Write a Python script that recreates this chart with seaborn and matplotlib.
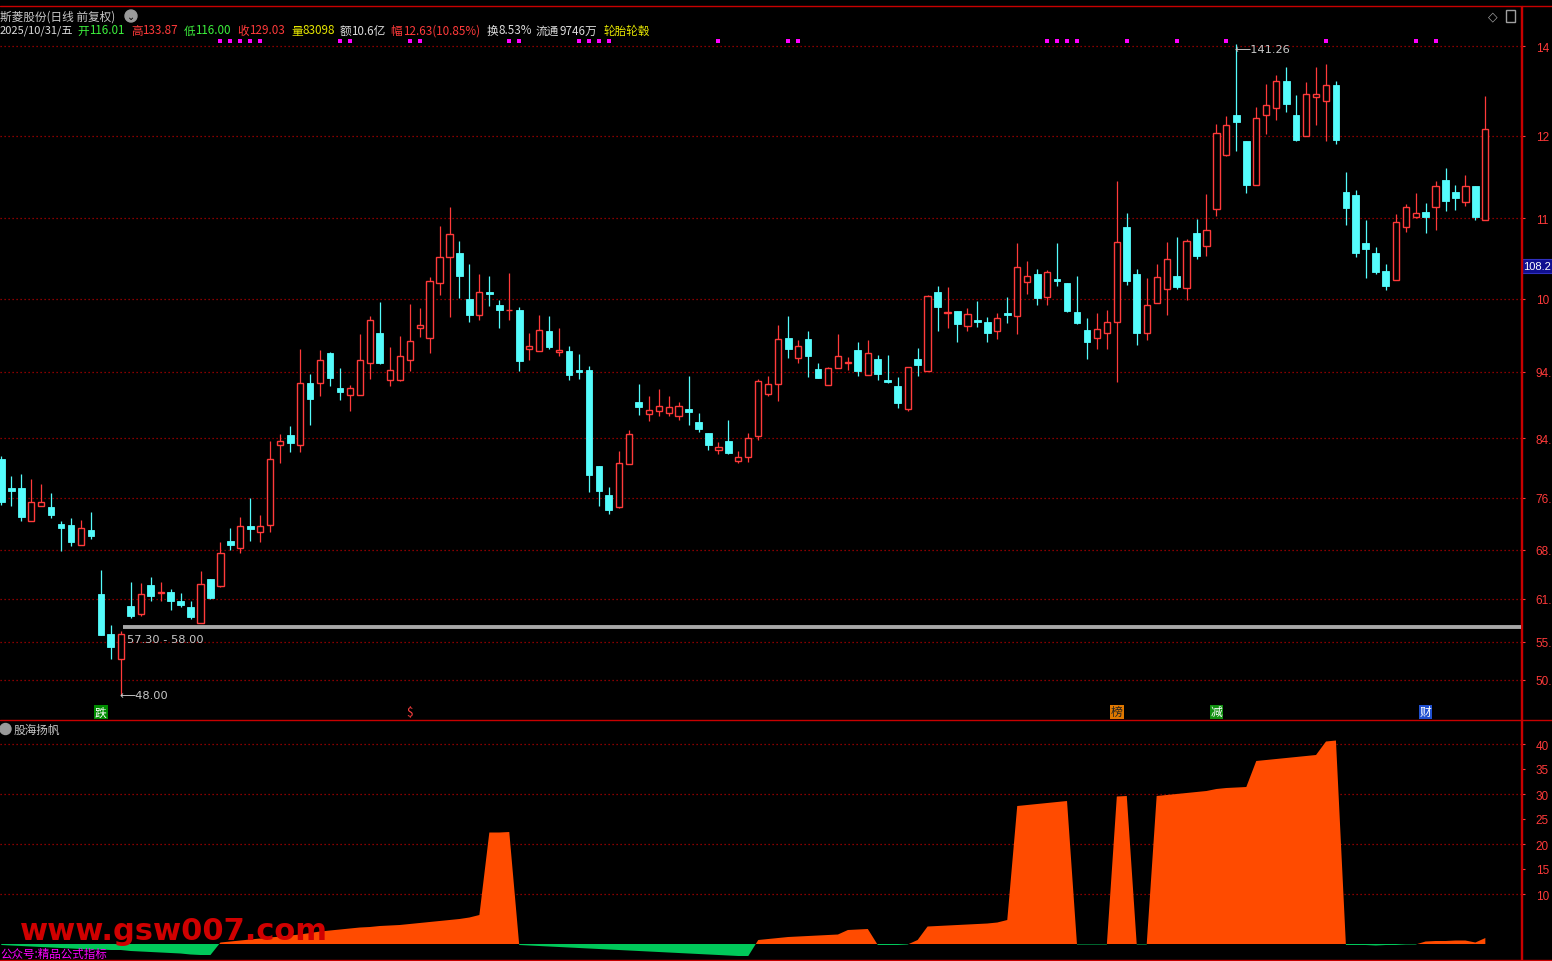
import numpy as np
import matplotlib
matplotlib.use("Agg")
import matplotlib.pyplot as plt
from matplotlib.patches import Ellipse, Rectangle
from matplotlib.lines import Line2D
import seaborn as sns

sns.set_theme(style="dark", rc={"axes.facecolor": "black", "figure.facecolor": "black",
                                "axes.grid": False})
plt.rcParams['font.family'] = ['Noto Sans CJK SC', 'DejaVu Sans']

# ---------------- data ----------------
opens = [81.80, 77.65, 77.65, 72.88, 75.03, 74.93, 72.49, 72.35, 69.53, 71.63,
         62.46, 56.73, 53.20, 60.75, 59.64, 63.75, 62.65, 62.75, 61.46, 60.60,
         58.27, 64.61, 63.65, 70.06, 69.10, 72.21, 71.39, 72.40, 83.86, 85.25,
         83.86, 92.70, 92.74, 96.99, 91.98, 91.02, 91.02, 95.60, 99.86, 93.17,
         93.17, 96.03, 100.62, 99.10, 106.98, 110.70, 111.32, 104.73, 102.39, 105.73,
         103.87, 103.16, 103.15, 97.61, 97.32, 100.14, 97.09, 97.28, 94.55, 94.55,
         80.80, 76.65, 74.93, 81.13, 89.97, 88.30, 88.73, 88.44, 88.01, 88.97,
         87.06, 85.53, 83.05, 84.34, 81.47, 82.05, 85.06, 91.07, 92.51, 99.14,
         96.23, 99.00, 94.70, 92.36, 94.80, 95.56, 97.42, 93.80, 96.13, 93.12,
         92.26, 88.92, 96.13, 94.37, 105.73, 102.72, 103.01, 100.90, 101.72, 101.43,
         100.07, 102.58, 102.25, 107.12, 108.31, 104.97, 107.59, 107.02, 102.86, 100.29,
         99.10, 99.81, 101.47, 115.04, 108.31, 99.81, 104.11, 106.12, 108.02, 106.25,
         114.18, 112.28, 117.58, 125.40, 131.05, 127.37, 121.02, 131.05, 132.05, 135.92,
         131.09, 128.04, 133.62, 133.05, 135.34, 120.06, 119.63, 112.75, 111.32, 108.74,
         107.41, 115.00, 116.43, 117.19, 117.87, 121.78, 120.06, 118.58, 120.92, 116.01]
closes = [75.69, 77.26, 73.54, 75.64, 75.64, 73.83, 71.96, 69.96, 71.92, 70.81,
          56.64, 54.91, 56.73, 59.35, 62.46, 62.22, 62.70, 61.50, 60.93, 59.21,
          63.85, 61.89, 68.30, 69.53, 72.16, 71.82, 72.16, 81.76, 84.34, 84.14,
          92.70, 90.40, 95.95, 93.41, 91.45, 91.94, 95.95, 101.68, 95.56, 94.51,
          96.52, 98.67, 101.00, 107.27, 110.70, 114.00, 108.07, 102.48, 105.69, 105.49,
          103.19, 103.22, 95.89, 97.95, 100.24, 97.85, 97.42, 93.88, 94.31, 79.56,
          77.22, 74.54, 81.23, 85.35, 89.30, 88.78, 89.36, 89.21, 89.36, 88.58,
          86.15, 83.86, 83.48, 82.71, 82.05, 84.77, 92.94, 92.51, 98.96, 97.61,
          97.95, 96.60, 93.45, 94.80, 96.56, 95.63, 94.45, 96.95, 94.03, 92.88,
          89.87, 94.94, 95.31, 105.11, 103.62, 102.80, 101.19, 102.53, 101.47, 99.90,
          101.98, 102.49, 109.27, 107.98, 104.91, 108.55, 107.27, 103.01, 101.33, 98.61,
          100.39, 101.39, 112.85, 107.35, 99.90, 103.87, 107.84, 110.46, 106.49, 113.04,
          110.93, 114.57, 128.47, 129.62, 130.13, 121.10, 130.62, 132.48, 135.92, 132.71,
          127.55, 134.06, 134.06, 135.34, 127.55, 117.81, 111.36, 111.94, 108.64, 106.63,
          115.76, 117.87, 117.01, 116.52, 120.92, 118.81, 119.24, 120.88, 116.52, 129.03]
highs = [82.28, 79.37, 79.66, 78.94, 78.22, 76.93, 72.92, 73.35, 73.06, 74.21,
         65.90, 58.03, 57.12, 64.18, 64.04, 64.90, 64.18, 63.18, 62.61, 61.46,
         65.76, 64.61, 69.91, 71.92, 73.49, 76.22, 73.78, 84.39, 85.39, 86.54,
         97.57, 93.98, 97.42, 97.13, 94.84, 92.41, 99.72, 102.29, 104.30, 97.85,
         99.43, 104.01, 103.44, 107.84, 115.19, 117.91, 113.04, 109.74, 108.31, 108.02,
         104.58, 108.45, 103.54, 99.86, 102.43, 102.29, 100.57, 97.99, 96.85, 95.08,
         80.80, 77.79, 82.95, 85.96, 92.55, 90.83, 91.84, 90.83, 89.97, 93.70,
         88.35, 85.53, 84.24, 87.39, 82.95, 85.53, 93.27, 93.70, 101.00, 102.29,
         98.86, 100.14, 95.56, 94.99, 99.72, 96.42, 98.57, 98.86, 96.71, 96.71,
         93.55, 94.94, 97.70, 105.30, 106.59, 106.40, 103.01, 103.44, 104.44, 102.15,
         102.72, 105.02, 112.75, 110.17, 109.03, 108.88, 112.75, 107.02, 108.02, 102.00,
         102.72, 103.15, 121.63, 117.05, 109.03, 107.74, 109.74, 112.89, 113.61, 113.32,
         116.19, 119.77, 129.76, 130.95, 141.26, 127.37, 132.21, 135.53, 136.82, 137.97,
         133.95, 135.82, 137.97, 138.40, 135.92, 122.92, 120.35, 116.05, 112.18, 109.74,
         116.91, 118.34, 119.92, 118.48, 121.63, 123.50, 121.06, 122.49, 120.92, 133.87]
lows = [75.26, 75.12, 72.97, 72.88, 75.03, 73.35, 68.67, 69.39, 69.53, 70.39,
        56.64, 53.15, 48.00, 59.02, 59.35, 61.46, 61.46, 60.17, 60.64, 58.92,
        58.27, 61.75, 63.51, 68.81, 68.38, 70.10, 69.96, 71.31, 81.28, 82.85,
        82.85, 86.72, 90.87, 92.31, 90.30, 88.68, 91.02, 93.27, 95.46, 92.31,
        93.02, 94.41, 99.33, 97.03, 105.34, 102.19, 104.91, 101.47, 101.76, 103.77,
        100.62, 101.76, 94.45, 96.03, 97.32, 97.61, 96.60, 93.17, 93.31, 77.12,
        75.07, 73.97, 74.83, 81.13, 88.15, 87.29, 88.01, 88.01, 87.44, 86.72,
        85.72, 83.14, 82.56, 82.56, 81.19, 81.42, 84.57, 90.87, 90.16, 96.32,
        95.60, 93.60, 93.45, 92.36, 94.80, 94.60, 93.74, 93.80, 93.17, 92.74,
        89.15, 88.73, 93.74, 94.37, 100.18, 100.62, 98.61, 100.10, 100.76, 98.61,
        99.00, 101.33, 99.76, 105.45, 103.91, 103.91, 106.63, 102.91, 101.19, 96.18,
        97.61, 97.61, 92.88, 106.78, 98.18, 98.90, 104.11, 102.48, 106.20, 104.63,
        110.50, 110.93, 116.66, 125.26, 125.98, 119.96, 121.02, 128.41, 130.42, 131.48,
        127.32, 128.04, 129.70, 127.41, 126.98, 115.37, 110.79, 107.78, 108.35, 106.06,
        107.41, 114.37, 116.29, 114.23, 114.66, 117.38, 117.52, 118.10, 116.09, 116.00]

indicator = ([-0.2, -0.3, -0.4, -0.5, -0.6, -0.7, -0.8, -0.9, -1.0, -1.1,
              -1.1, -1.2, -1.2, -1.4, -1.5, -1.6, -1.7, -1.8, -1.9, -2.1, -2.2, -2.2]
             + [0.3, 0.5, 0.7, 0.9, 1.1, 1.3, 1.5, 1.7, 1.9, 2.2, 2.5, 2.7, 2.9, 3.1,
                3.3, 3.4, 3.6, 3.7, 3.8, 4.0, 4.2, 4.4, 4.6, 4.8, 5.0, 5.3, 5.8]
             + [22.3, 22.3, 22.4]
             + [-0.2, -0.3, -0.4, -0.5, -0.6, -0.7, -0.8, -0.9, -1.0, -1.1, -1.2, -1.3,
                -1.4, -1.5, -1.6, -1.7, -1.8, -1.9, -2.0, -2.1, -2.2, -2.3, -2.4, -2.4]
             + [0.8, 1.0, 1.2, 1.4, 1.5, 1.6, 1.7, 1.8, 1.9, 2.8, 2.9, 3.0]
             + [-0.2, -0.2, -0.2, -0.1]
             + [0.8, 3.5, 3.6, 3.7, 3.8, 3.9, 4.0, 4.1, 4.3, 4.8]
             + [27.6, 27.8, 28.0, 28.2, 28.4, 28.6]
             + [-0.1, -0.1, -0.1, -0.1]
             + [29.5, 29.6]
             + [-0.1, -0.1]
             + [29.6, 29.8, 30.0, 30.2, 30.4, 30.6]
             + [31.0, 31.2, 31.3, 31.4]
             + [36.6, 36.8, 37.0, 37.2, 37.4, 37.6, 37.8]
             + [40.5, 40.7]
             + [-0.2, -0.2, -0.2, -0.3, -0.2, -0.2, -0.1, -0.1]
             + [0.5, 0.6, 0.6, 0.7, 0.7, 0.3, 1.2])

signal_days = [22, 23, 24, 25, 26, 34, 35, 41, 42, 51, 52, 58, 59, 60, 61, 72, 79, 80,
               105, 106, 107, 108, 113, 118, 123, 133, 142, 144]
event_days = [10, 41, 112, 122, 143]
event_labels = ["跌", "$", "榜", "减", "财"]

# price gridline levels and the (clipped) labels visible at the right edge
price_ticks = [50.15, 55.59, 61.75, 68.77, 76.22, 84.81, 94.27, 104.73, 116.33, 128.08, 140.97]
price_tick_labels = ["50.", "55.", "61.", "68.", "76.", "84.", "94.", "10", "11", "12", "14"]
ind_ticks = [10, 15, 20, 25, 30, 35, 40]
ind_tick_labels = ["10", "15", "20", "25", "30", "35", "40"]
ind_grid = [10, 20, 30, 40]

support_low, support_high = 57.30, 58.00
low_price, high_price = 48.00, 141.26
low_day, high_day = 12, 124
last_label = "108.2"

# ---------------- figure ----------------
W, H = 1552, 962
fig = plt.figure(figsize=(W / 100, H / 100), dpi=100, facecolor="black")


def fx(px):
    return px / W


def fy(py):
    return 1 - py / H


RED = "#FF3A3A"
CYAN = "#54FCFC"
GRID = "#B40000"
AXRED = "#C80000"
TICKFONT = ["Liberation Sans", "DejaVu Sans"]

ax = fig.add_axes([0, fy(720), 1521 / W, (720 - 8) / H])
ax2 = fig.add_axes([0, fy(960), 1521 / W, (960 - 722) / H])
XL = (-0.1305, 152.58)

o = np.array(opens)
c = np.array(closes)
h = np.array(highs)
l = np.array(lows)
x = np.arange(len(o))
up = c >= o
dn = ~up

# gridlines
for t in price_ticks:
    ax.axhline(t, color=GRID, lw=0.9, ls=(0, (1.0, 2.2)), zorder=0)

# down candles (filled cyan)
ax.vlines(x[dn], l[dn], h[dn], color=CYAN, lw=0.9, zorder=2)
body_dn = np.maximum(o[dn] - c[dn], 0.16)
ax.bar(x[dn], body_dn, bottom=c[dn], width=0.68, color=CYAN, edgecolor=CYAN,
       linewidth=0.6, zorder=3)
# up candles (hollow red)
ax.vlines(x[up], c[up], h[up], color=RED, lw=0.9, zorder=2)
ax.vlines(x[up], l[up], o[up], color=RED, lw=0.9, zorder=2)
ax.bar(x[up], c[up] - o[up], bottom=o[up], width=0.62, facecolor="black",
       edgecolor=RED, linewidth=1.0, zorder=3)

# signal markers at top
ax.scatter(signal_days, [141.69] * len(signal_days), marker="s", s=9, color="#FF00FF",
           linewidths=0, zorder=4)

# support line
ax.hlines((support_low + support_high) / 2 + 0.08, 12.2, XL[1], color="#A8A8A8", lw=2.8, zorder=4)
ax.text(12.6, 56.0, f"{support_low:.2f} - {support_high:.2f}", color="#C8C8C8", fontsize=8.2,
        va="center", ha="left", family=["DejaVu Sans"], zorder=5)
ax.text(11.9, low_price, f"⟵{low_price:.2f}", color="#C8C8C8", fontsize=8.2,
        va="center", ha="left", family=["DejaVu Sans"], zorder=5)
ax.text(123.8, 140.6, f"⟵{high_price:.2f}", color="#C8C8C8", fontsize=8.2,
        va="center", ha="left", family=["DejaVu Sans"], zorder=5)

# event labels at the bottom
ev_style = {"跌": ("#FFFFFF", "#008C00"), "$": ("#FF4040", None), "榜": ("#202020", "#E07800"),
            "减": ("#FFFFFF", "#109010"), "财": ("#FFFFFF", "#2050D0")}
for d, t in zip(event_days, event_labels):
    fc, bc = ev_style[t]
    kw = {}
    if bc:
        kw["bbox"] = dict(boxstyle="square,pad=0.08", fc=bc, ec="none")
    ax.text(d, 45.56, t, color=fc, fontsize=8.5, ha="center", va="center", zorder=5, **kw)

ax.set_xlim(*XL)
ax.set_ylim(44.552, 146.561)
ax.set_xticks([])
ax.yaxis.tick_right()
ax.set_yticks(price_ticks)
ax.set_yticklabels(price_tick_labels)
ax.tick_params(axis="y", colors=RED, length=3, width=0.8, pad=7.5, labelsize=8.5)
for lab in ax.get_yticklabels():
    lab.set_family(TICKFONT)
for s in ["top", "left", "bottom"]:
    ax.spines[s].set_visible(False)
ax.spines["right"].set_color(AXRED)
ax.spines["right"].set_linewidth(1.0)
ax.set_facecolor("black")

# ---------------- lower indicator ----------------
v = np.array(indicator)
for t in ind_grid:
    ax2.axhline(t, color=GRID, lw=0.9, ls=(0, (1.0, 2.2)), zorder=0)
ax2.fill_between(x, 0, v, where=v >= 0, interpolate=True, color="#FF4B00", lw=0, zorder=2)
ax2.fill_between(x, 0, v, where=v <= 0, interpolate=True, color="#00C85A", lw=0, zorder=2)
ax2.set_xlim(*XL)
ax2.set_ylim(-3.0, 44.6)
ax2.set_xticks([])
ax2.yaxis.tick_right()
ax2.set_yticks(ind_ticks)
ax2.set_yticklabels(ind_tick_labels)
ax2.tick_params(axis="y", colors=RED, length=3, width=0.8, pad=7.5, labelsize=8.5)
for lab in ax2.get_yticklabels():
    lab.set_family(TICKFONT)
for s in ["top", "left", "bottom"]:
    ax2.spines[s].set_visible(False)
ax2.spines["right"].set_color(AXRED)
ax2.spines["right"].set_linewidth(1.0)
ax2.set_facecolor("black")

# ---------------- frame lines ----------------
for yy in (7, 721, 960.5):
    fig.add_artist(Line2D([0, 1], [fy(yy), fy(yy)], color=AXRED, lw=1.0))
fig.add_artist(Line2D([fx(1521.5), fx(1521.5)], [fy(7), fy(962)], color=AXRED, lw=1.0))

# ---------------- header ----------------
fs = 8.4
fig.text(0, fy(17), "斯菱股份(日线 前复权)", color="#C8C8C8", fontsize=fs, va="center")
fig.add_artist(Ellipse((fx(131), fy(17)), 12 / W, 12 / H, color="#9A9A9A", transform=fig.transFigure))
fig.text(fx(131), fy(17.5), "⌄", color="black", fontsize=7, ha="center", va="center",
         family=["DejaVu Sans"])

GREEN = "#3CF03C"
YEL = "#E6E600"
WHT = "#DCDCDC"
segs = [(0, "2025/10/31/五", WHT), (77, "开", GREEN), (89, "116.01", GREEN),
        (131, "高", RED), (142, "133.87", RED), (184, "低", GREEN), (195, "116.00", GREEN),
        (237.5, "收", RED), (249, "129.03", RED), (291, "量", YEL), (302.7, "83098", YEL),
        (340, "额", WHT), (351, "10.6亿", WHT), (390.6, "幅", RED), (402.7, "12.63(10.85%)", RED),
        (486.6, "换", WHT), (498.7, "8.53%", WHT), (535.7, "流通", WHT), (559, "9746万", WHT),
        (603.6, "轮胎轮毂", YEL)]
for px, t, col in segs:
    size = fs - 0.4 if px == 0 else fs
    fig.text(fx(px), fy(31), t, color=col, fontsize=size, va="center", ha="left")

# top-right icons
fig.text(fx(1493), fy(17), "◇", color="#A0A0A0", fontsize=9, ha="center", va="center",
         family=["DejaVu Sans"])
fig.add_artist(Rectangle((fx(1506), fy(23)), 9 / W, 12 / H, fill=False, ec="#A0A0A0", lw=1.0,
                         transform=fig.transFigure))

# price box
fig.add_artist(Rectangle((fx(1521.5), fy(274)), 31 / W, 14 / H, fc="#101090", ec="#3030C0",
                         lw=0.8, transform=fig.transFigure))
fig.text(fx(1523), fy(267), last_label, color="white", fontsize=8.0, va="center", ha="left",
         family=TICKFONT)

# lower panel title
fig.add_artist(Ellipse((fx(5.5), fy(730)), 11 / W, 11 / H, color="#9A9A9A", transform=fig.transFigure))
fig.text(fx(14), fy(730), "股海扬帆", color="#C8C8C8", fontsize=fs, va="center", ha="left")

# watermark and footer
fig.text(fx(20), fy(932), "www.gsw007.com", color="#D00000", fontsize=22, fontweight="bold",
         va="center", ha="left", family=["DejaVu Sans"], zorder=10)
fig.text(0, fy(954), "公众号:精品公式指标", color="#FF00FF", fontsize=8.3, va="center", ha="left",
         zorder=10)

fig.savefig("out.png", dpi=100, facecolor="black")
